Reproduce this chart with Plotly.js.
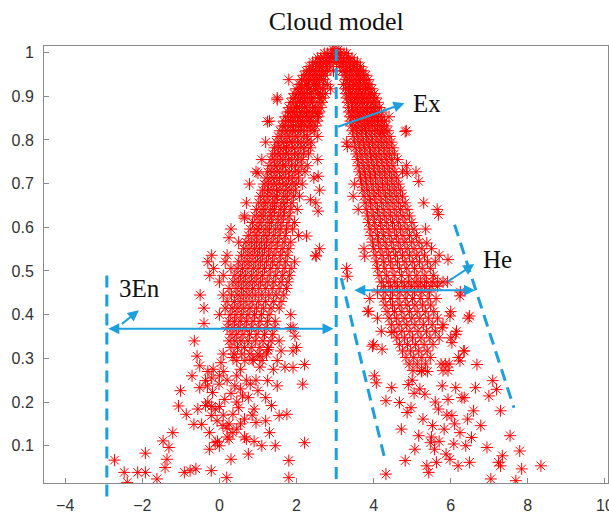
<!DOCTYPE html>
<html>
<head>
<meta charset="utf-8">
<script src="https://cdn.plot.ly/plotly-3.0.1.min.js"></script>
<style>html,body{margin:0;padding:0;background:#fff;}#chart{width:609px;height:514px;}</style>
</head>
<body>
<div id="chart"></div>
<script>
// ---- scatter data (rows: [y, x1, x2, ...]) ----
const capRows = [
  [1.008, 2.93, 3.02, 3.1],
  [0.998, 2.72, 2.8, 2.9, 2.97, 3.06, 3.14, 3.23, 3.3],
  [0.988, 2.55, 2.63, 2.71, 2.82, 2.9, 2.99, 3.08, 3.17, 3.26, 3.35, 3.44],
  [0.978, 2.42, 2.5, 2.59, 2.69, 2.77, 2.86, 2.95, 3.04, 3.13, 3.22, 3.31, 3.4, 3.5, 3.58],
  [0.968, 2.33, 2.41, 2.51, 2.6, 2.68, 2.78, 2.87, 3.12, 3.21, 3.3, 3.39, 3.48, 3.57, 3.66],
  [0.958, 2.25, 2.34, 2.43, 2.53, 2.61, 2.71, 2.8, 2.96, 3.18, 3.27, 3.37, 3.46, 3.55, 3.64, 3.74],
  [0.948, 2.19, 2.27, 2.37, 2.46, 2.56, 2.65, 2.75, 3.24, 3.33, 3.43, 3.52, 3.61, 3.7, 3.8],
  [0.938, 2.13, 2.22, 2.31, 2.41, 2.5, 2.6, 2.7, 3.28, 3.38, 3.47, 3.57, 3.66, 3.76, 3.86]
];
const leftArmRows = [
  [0.927, 2.07, 2.12, 2.26, 2.3, 2.44, 2.52, 2.58, 2.71, 2.8],
  [0.917, 1.99, 2.1, 2.15, 2.29, 2.35, 2.49, 2.53, 2.67, 2.88],
  [0.906, 1.94, 2.05, 2.12, 2.2, 2.34, 2.4, 2.55, 2.62, 2.75],
  [0.896, 1.5, 1.91, 1.98, 2.11, 2.17, 2.28, 2.39, 2.45, 2.6, 2.69],
  [0.886, 1.85, 1.96, 2.03, 2.15, 2.22, 2.35, 2.42, 2.56, 2.66],
  [0.874, 1.8, 1.91, 2.0, 2.08, 2.21, 2.27, 2.41, 2.5, 2.63],
  [0.864, 1.77, 1.86, 1.95, 2.07, 2.14, 2.26, 2.35, 2.49, 2.59],
  [0.853, 1.71, 1.84, 1.9, 2.03, 2.1, 2.22, 2.32, 2.43, 2.57],
  [0.843, 1.3, 1.67, 1.79, 1.86, 1.98, 2.09, 2.16, 2.3, 2.4, 2.54],
  [0.832, 1.63, 1.72, 1.85, 1.92, 2.05, 2.13, 2.27, 2.37, 2.5],
  [0.821, 1.57, 1.7, 1.78, 1.9, 1.98, 2.11, 2.2, 2.35, 2.46],
  [0.808, 1.52, 1.62, 1.75, 1.83, 1.96, 2.04, 2.19, 2.28, 2.55],
  [0.795, 1.2, 1.47, 1.6, 1.68, 1.81, 1.89, 2.03, 2.12, 2.27, 2.38],
  [0.782, 1.43, 1.53, 1.66, 1.74, 1.88, 1.96, 2.11, 2.2, 2.36],
  [0.768, 1.38, 1.5, 1.59, 1.72, 1.8, 1.95, 2.04, 2.18, 2.31],
  [0.755, 1.1, 1.34, 1.44, 1.57, 1.65, 1.79, 1.88, 2.03, 2.14, 2.55],
  [0.741, 1.29, 1.42, 1.5, 1.64, 1.72, 1.87, 1.97, 2.12, 2.28],
  [0.727, 0.95, 1.25, 1.36, 1.49, 1.57, 1.71, 1.81, 1.96, 2.06, 2.22],
  [0.713, 1.21, 1.34, 1.42, 1.56, 1.65, 1.79, 1.9, 2.05, 2.45],
  [0.699, 0.78, 1.16, 1.27, 1.41, 1.49, 1.63, 1.73, 1.88, 1.99, 2.15],
  [0.685, 1.12, 1.25, 1.34, 1.48, 1.57, 1.72, 1.83, 1.97, 2.6],
  [0.671, 1.06, 1.18, 1.29, 1.42, 1.51, 1.66, 1.77, 1.92, 2.08],
  [0.656, 0.7, 1.02, 1.15, 1.24, 1.38, 1.47, 1.62, 1.73, 1.88, 2.5],
  [0.641, 0.96, 1.1, 1.19, 1.33, 1.43, 1.58, 1.69, 1.85, 2.02],
  [0.626, 0.65, 0.92, 1.05, 1.15, 1.29, 1.39, 1.54, 1.66, 1.81],
  [0.611, 0.86, 1.0, 1.1, 1.24, 1.35, 1.5, 1.62, 1.78, 1.95],
  [0.596, 0.3, 0.8, 0.95, 1.05, 1.19, 1.3, 1.45, 1.58, 1.74, 1.9],
  [0.581, 0.75, 0.9, 1.0, 1.15, 1.26, 1.41, 1.55, 1.71, 2.05],
  [0.566, 0.5, 0.69, 0.83, 0.96, 1.09, 1.22, 1.36, 1.51, 1.68, 1.85],
  [0.551, 0.63, 0.77, 0.91, 1.04, 1.17, 1.31, 1.47, 1.63, 1.8, 2.6],
  [0.536, -0.2, 0.2, 0.57, 0.72, 0.85, 0.99, 1.12, 1.27, 1.42, 1.59, 1.76, 2.5],
  [0.521, -0.3, 0.15, 0.5, 0.66, 0.79, 0.93, 1.07, 1.22, 1.38, 1.55, 1.72, 1.95],
  [0.506, -0.15, 0.3, 0.46, 0.6, 0.74, 0.88, 1.02, 1.17, 1.33, 1.5, 1.68, 1.86],
  [0.49, -0.25, 0.1, 0.4, 0.55, 0.68, 0.83, 0.97, 1.12, 1.29, 1.46, 1.64, 1.82],
  [0.475, 0.0, 0.35, 0.49, 0.63, 0.77, 0.92, 1.07, 1.24, 1.41, 1.6, 1.78],
  [0.46, 0.25, 0.43, 0.57, 0.71, 0.86, 1.02, 1.19, 1.37, 1.55, 1.74],
  [0.445, -0.5, 0.1, 0.31, 0.48, 0.62, 0.77, 0.93, 1.1, 1.28, 1.47, 1.67],
  [0.43, 0.2, 0.39, 0.54, 0.69, 0.85, 1.02, 1.2, 1.4, 1.6],
  [0.415, -0.4, 0.15, 0.33, 0.48, 0.63, 0.79, 0.96, 1.14, 1.34, 1.55],
  [0.40, 0.0, 0.28, 0.43, 0.58, 0.74, 0.91, 1.09, 1.29, 1.85],
  [0.385, 0.24, 0.39, 0.54, 0.7, 0.87, 1.05, 1.25, 1.45],
  [0.37, 0.2, 0.35, 0.5, 0.66, 0.83, 1.01, 1.21, 1.42, 1.85],
  [0.355, 0.3, 0.45, 0.61, 0.78, 0.97, 1.17, 1.38],
  [0.34, 0.25, 0.4, 0.56, 0.74, 0.93, 1.13, 1.34, 1.55],
  [0.325, 0.3, 0.47, 0.65, 0.84, 1.05, 1.27, 2.0],
  [0.31, 0.1, 0.38, 0.58, 0.79, 1.0, 1.22],
  [0.295, 0.45, 0.66, 0.88, 1.11]
];
const rightArmRows = [
  [0.927, 3.22, 3.31, 3.37, 3.48, 3.56, 3.64, 3.73, 3.82, 3.9],
  [0.917, 3.27, 3.35, 3.44, 3.52, 3.61, 3.7, 3.79, 3.87, 3.96],
  [0.906, 3.28, 3.39, 3.46, 3.55, 3.65, 3.73, 3.83, 3.92, 4.02],
  [0.896, 3.3, 3.4, 3.5, 3.58, 3.68, 3.77, 3.87, 3.96, 4.06],
  [0.886, 3.33, 3.43, 3.52, 3.62, 3.71, 3.81, 3.91, 4.0, 4.11],
  [0.874, 3.35, 3.45, 3.55, 3.65, 3.75, 3.84, 3.94, 4.05, 4.15],
  [0.864, 3.36, 3.47, 3.58, 3.67, 3.78, 3.88, 3.98, 4.09, 4.2],
  [0.853, 3.39, 3.49, 3.6, 3.7, 3.81, 3.91, 4.02, 4.13, 4.24, 4.4],
  [0.843, 3.4, 3.52, 3.62, 3.73, 3.84, 3.95, 4.06, 4.17, 4.28],
  [0.832, 3.42, 3.54, 3.65, 3.76, 3.87, 3.98, 4.1, 4.21, 4.33],
  [0.821, 3.45, 3.56, 3.68, 3.79, 3.9, 4.02, 4.14, 4.25, 4.37, 4.85],
  [0.808, 3.47, 3.59, 3.7, 3.82, 3.94, 4.06, 4.17, 4.29, 4.42],
  [0.795, 3.3, 3.5, 3.62, 3.74, 3.86, 3.97, 4.09, 4.21, 4.33, 4.46],
  [0.782, 3.52, 3.64, 3.76, 3.89, 4.01, 4.13, 4.25, 4.37, 4.5],
  [0.768, 3.55, 3.67, 3.8, 3.92, 4.04, 4.16, 4.29, 4.41, 4.54],
  [0.755, 3.58, 3.7, 3.83, 3.95, 4.08, 4.2, 4.33, 4.46, 4.62],
  [0.741, 3.6, 3.73, 3.86, 3.99, 4.11, 4.24, 4.37, 4.5, 4.85],
  [0.727, 3.63, 3.76, 3.89, 4.02, 4.15, 4.28, 4.41, 4.55, 4.75, 5.1],
  [0.713, 3.66, 3.79, 3.92, 4.05, 4.19, 4.32, 4.46, 4.6],
  [0.699, 3.5, 3.69, 3.82, 3.96, 4.09, 4.23, 4.36, 4.5, 4.65],
  [0.685, 3.72, 3.85, 3.99, 4.13, 4.27, 4.41, 4.55, 4.7],
  [0.671, 3.75, 3.89, 4.03, 4.17, 4.31, 4.45, 4.6, 4.75],
  [0.656, 3.78, 3.92, 4.06, 4.21, 4.35, 4.5, 4.65, 4.82, 5.3],
  [0.641, 3.6, 3.81, 3.96, 4.1, 4.25, 4.4, 4.55, 4.7, 4.87, 5.65],
  [0.626, 3.84, 3.99, 4.14, 4.29, 4.44, 4.6, 4.76, 4.93],
  [0.611, 3.87, 4.02, 4.18, 4.33, 4.49, 4.65, 4.81, 4.99],
  [0.596, 3.9, 4.06, 4.22, 4.38, 4.54, 4.7, 4.87, 5.05, 5.35],
  [0.581, 3.93, 4.1, 4.26, 4.42, 4.59, 4.76, 4.93, 5.11],
  [0.566, 3.97, 4.13, 4.3, 4.47, 4.64, 4.81, 4.99, 5.18],
  [0.551, 3.75, 4.0, 4.17, 4.34, 4.52, 4.69, 4.87, 5.05, 5.25, 5.5],
  [0.536, 4.04, 4.22, 4.39, 4.57, 4.75, 4.93, 5.12, 5.32, 5.7],
  [0.521, 4.07, 4.26, 4.44, 4.62, 4.81, 5.0, 5.19, 5.4, 5.6],
  [0.506, 3.3, 4.1, 4.29, 4.48, 4.67, 4.86, 5.06, 5.26, 5.47],
  [0.49, 4.14, 4.33, 4.53, 4.72, 4.92, 5.12, 5.33, 5.55],
  [0.475, 4.2, 4.38, 4.55, 4.73, 4.9, 5.07, 5.22, 5.37, 5.52, 5.66, 5.8, 5.92],
  [0.465, 4.26, 4.44, 4.62, 4.8, 4.98, 5.15, 5.32, 5.49, 5.66],
  [0.452, 4.1, 4.3, 4.49, 4.68, 4.87, 5.06, 5.25, 5.45, 6.25],
  [0.437, 3.9, 4.25, 4.44, 4.63, 4.82, 5.01, 5.21, 5.41, 5.62],
  [0.422, 4.3, 4.49, 4.68, 4.87, 5.07, 5.27, 5.48],
  [0.407, 3.85, 4.35, 4.54, 4.73, 4.93, 5.13, 5.34, 5.56, 6.0],
  [0.392, 4.1, 4.4, 4.59, 4.79, 4.99, 5.2, 5.42, 5.66, 6.45],
  [0.377, 4.46, 4.66, 4.86, 5.07, 5.29, 5.52, 5.8],
  [0.362, 4.2, 4.53, 4.73, 4.94, 5.15, 5.37, 5.6, 6.15],
  [0.347, 4.6, 4.8, 5.01, 5.23, 5.46, 5.7, 6.0],
  [0.332, 4.0, 4.67, 4.88, 5.09, 5.31, 5.54],
  [0.317, 4.75, 4.96, 5.17, 5.39, 6.35],
  [0.302, 4.84, 5.04, 5.25, 5.47, 6.2],
  [0.287, 4.92, 5.13, 5.35, 5.75, 5.86, 5.96],
  [0.272, 5.02, 5.24, 5.8, 5.93]
];
const leftTailX = [-2.72,-2.47,-2.39,-2.12,-1.92,-1.92,-1.62,-1.46,-1.36,-1.31,-1.41,-1.21,-1.06,-1.01,-0.91,-0.86,-0.76,-0.71,-0.66,-0.61,-0.58,-0.56,-0.51,-0.51,-0.46,-0.36,-0.36,-0.31,-0.26,-0.26,-0.21,-0.21,-0.18,-0.16,-0.11,-0.11,-0.06,-0.01,0.04,0.09,0.14,0.19,0.25,0.30,0.35,0.35,0.40,0.45,0.50,0.55,0.60,0.65,0.70,0.75,0.80,0.85,0.90,0.95,1.00,1.20,1.25,1.35,1.40,1.45,1.50,1.55,1.60,1.75,1.80,1.80,1.91,2.16,2.21,2.21,1.91,1.96,1.91,-0.3,-0.2,0.0,0.1,0.2,0.3,0.45,0.55,0.7,0.75,-0.2,0.0,0.1,0.25,0.35,0.55,0.65,0.0,-0.05,0.2,0.9,1.1,1.3,1.2,1.05,0.95,0.85,0.2,-0.3,0.45,1.5,1.25,1.05,-0.65,-0.4,1.7,2.55,1.80,1.50,1.25,1.00,0.65,0.25,2.56,2.36,2.56,2.51,2.26];
const leftTailY = [0.067,0.039,0.016,0.039,0.039,0.083,0.024,0.111,0.069,0.096,0.050,0.130,0.191,0.226,0.039,0.172,0.043,0.260,0.149,0.047,0.305,0.184,0.283,0.233,0.149,0.249,0.192,0.237,0.092,0.130,0.043,0.169,0.222,0.275,0.184,0.107,0.157,0.241,0.290,0.146,0.206,0.027,0.115,0.069,0.172,0.302,0.237,0.138,0.187,0.275,0.214,0.161,0.115,0.081,0.241,0.298,0.184,0.153,0.226,0.157,0.249,0.192,0.275,0.100,0.237,0.169,0.317,0.172,0.027,0.066,0.279,0.241,0.286,0.107,0.317,0.351,0.370,0.27,0.255,0.26,0.27,0.25,0.22,0.26,0.23,0.25,0.21,0.19,0.19,0.17,0.15,0.13,0.15,0.12,0.10,0.11,0.12,0.11,0.10,0.13,0.21,0.28,0.25,0.17,0.14,0.20,0.20,0.295,0.32,0.305,0.34,0.38,0.28,0.86,0.938,0.892,0.842,0.724,0.621,0.576,0.637,0.663,0.717,0.534,0.580];
const rightTailX = [4.32,4.02,4.07,4.32,4.47,4.72,4.82,4.67,4.87,4.97,5.07,5.17,5.28,5.33,5.38,5.43,5.48,5.53,5.58,5.63,5.68,5.78,5.83,5.88,5.93,5.98,6.03,6.08,6.13,6.19,6.24,6.29,6.39,6.44,6.49,6.54,6.59,6.64,6.68,6.78,6.94,6.99,7.04,7.09,7.19,7.24,7.29,7.29,7.34,7.54,7.69,7.79,7.84,8.34,6.24,5.93,5.68,5.38,5.17,4.87,4.82,4.22,3.32,3.32,3.47,3.77,3.87,3.97,4.22,4.47,5.78,5.98,6.13,6.34,6.49,6.24,6.03,5.0,5.2,5.6,5.9,6.1,5.4,5.5,5.7,6.35,5.05,5.25,4.9];
const rightTailY = [0.035,0.260,0.244,0.203,0.233,0.138,0.066,0.199,0.176,0.187,0.092,0.123,0.161,0.218,0.054,0.039,0.107,0.146,0.092,0.062,0.184,0.237,0.138,0.081,0.206,0.069,0.169,0.104,0.233,0.054,0.130,0.210,0.100,0.161,0.062,0.119,0.180,0.233,0.286,0.146,0.096,0.214,0.024,0.249,0.229,0.062,0.054,0.180,0.077,0.123,0.020,0.088,0.047,0.054,0.443,0.526,0.629,0.564,0.705,0.724,0.819,0.816,0.488,0.785,0.671,0.534,0.408,0.328,0.321,0.359,0.370,0.397,0.355,0.317,0.397,0.294,0.336,0.25,0.23,0.2,0.17,0.15,0.27,0.12,0.11,0.21,0.22,0.27,0.24];

// ---- annotation values ----
const exValue = 3.03;
const enLineX = -2.92;
const guideVertX = [enLineX, exValue];
const guideVertY0 = [-0.016, 0.024];
const guideVertY1 = [0.494, 1.02];
const heLineX0 = [3.16, 6.10];
const heLineY0 = [0.484, 0.606];
const heLineX1 = [4.30, 7.64];
const heLineY1 = [0.066, 0.187];
const spanStartX = [-2.92, 3.46];
const spanEndX = [2.96, 6.63];
const spanY = [0.368, 0.456];
const pointerTailX = [3.04, 5.88, -2.57];
const pointerTailY = [0.829, 0.473, 0.376];
const pointerHeadX = [4.80, 6.61, -2.09];
const pointerHeadY = [0.884, 0.516, 0.410];
const labelText = ['Ex', 'He', '3En'];
const labelX = [5.38, 7.21, -2.07];
const labelY = [0.884, 0.526, 0.459];
const xTicks = [-4, -2, 0, 2, 4, 6, 8, 10];
const yTicks = [0.1, 0.2, 0.3, 0.4, 0.5, 0.6, 0.7, 0.8, 0.9, 1];
const yTickText = ['0.1', '0.2', '0.3', '0.4', '0.5', '0.6', '0.7', '0.8', '0.9', '1'];

// ---- build ----
const xs = [], ys = [];
function addRows(rows) {
  rows.forEach(r => { for (let i = 1; i < r.length; i++) { xs.push(r[i]); ys.push(r[0]); } });
}
addRows(capRows); addRows(leftArmRows); addRows(rightArmRows);
leftTailX.forEach((v, i) => { xs.push(v); ys.push(leftTailY[i]); });
rightTailX.forEach((v, i) => { xs.push(v); ys.push(rightTailY[i]); });

const BLUE = '#1C9FDD';
const xRange = [-4.55, 10.08];
const yRange = [0.0147, 1.015];
const toPaperY = y => (y - yRange[0]) / (yRange[1] - yRange[0]);

const trace = {
  x: xs, y: ys, type: 'scatter', mode: 'markers',
  marker: { symbol: 'asterisk-open', size: 10, color: 'rgb(255,0,0)', line: { color: 'rgb(255,0,0)', width: 1 } },
  hoverinfo: 'skip', showlegend: false
};

const dashStyle = { color: BLUE, width: 3, dash: '12px,7px' };
const shapes = [];
guideVertX.forEach((x, i) => {
  shapes.push({ type: 'line', xref: 'x', yref: 'paper', x0: x, x1: x,
    y0: toPaperY(guideVertY0[i]), y1: toPaperY(guideVertY1[i]), line: dashStyle, layer: 'above' });
});
heLineX0.forEach((x, i) => {
  shapes.push({ type: 'line', xref: 'x', yref: 'y', x0: x, y0: heLineY0[i], x1: heLineX1[i], y1: heLineY1[i], line: dashStyle, layer: 'above' });
});

const annotations = [];
spanStartX.forEach((x0, i) => {
  annotations.push({ x: spanEndX[i], y: spanY[i], ax: x0, ay: spanY[i], xref: 'x', yref: 'y', axref: 'x', ayref: 'y',
    text: '', showarrow: true, arrowhead: 2, startarrowhead: 2, arrowside: 'end+start', arrowsize: 1.1, startarrowsize: 1.1,
    arrowwidth: 2, arrowcolor: BLUE, standoff: 0, startstandoff: 0 });
});
pointerTailX.forEach((x0, i) => {
  annotations.push({ x: pointerHeadX[i], y: pointerHeadY[i], ax: x0, ay: pointerTailY[i], xref: 'x', yref: 'y', axref: 'x', ayref: 'y',
    text: '', showarrow: true, arrowhead: 2, arrowsize: 1.1, arrowwidth: 2, arrowcolor: BLUE, standoff: 0 });
});
labelText.forEach((t, i) => {
  annotations.push({ x: labelX[i], y: labelY[i], xref: 'x', yref: 'y', text: t, showarrow: false,
    font: { family: 'Liberation Serif, Times New Roman, serif', size: 25, color: '#111' } });
});

const axisCommon = {
  showline: true, linecolor: '#8a8a8a', linewidth: 1, mirror: true,
  ticks: 'inside', ticklen: 5, tickcolor: '#8a8a8a', tickwidth: 1,
  showgrid: false, zeroline: false, ticklabeloverflow: 'allow',
  tickfont: { family: 'Liberation Sans, Arial, sans-serif', size: 16, color: '#333' }
};

const layout = {
  width: 609, height: 514,
  margin: { l: 44, r: 1, t: 46, b: 31 },
  paper_bgcolor: '#fff', plot_bgcolor: '#fff',
  title: { text: 'Cloud model', x: 0.552, xanchor: 'center', y: 1 - 21 / 514, yanchor: 'middle', yref: 'container',
    font: { family: 'Liberation Serif, Times New Roman, serif', size: 26, color: '#111' } },
  xaxis: Object.assign({}, axisCommon, { range: xRange, tickvals: xTicks, ticklabelstandoff: 8 }),
  yaxis: Object.assign({}, axisCommon, { range: yRange, tickvals: yTicks, ticktext: yTickText, ticklabelstandoff: 6 }),
  shapes: shapes, annotations: annotations, showlegend: false
};

Plotly.newPlot('chart', [trace], layout, { displayModeBar: false, staticPlot: true });
</script>
</body>
</html>
